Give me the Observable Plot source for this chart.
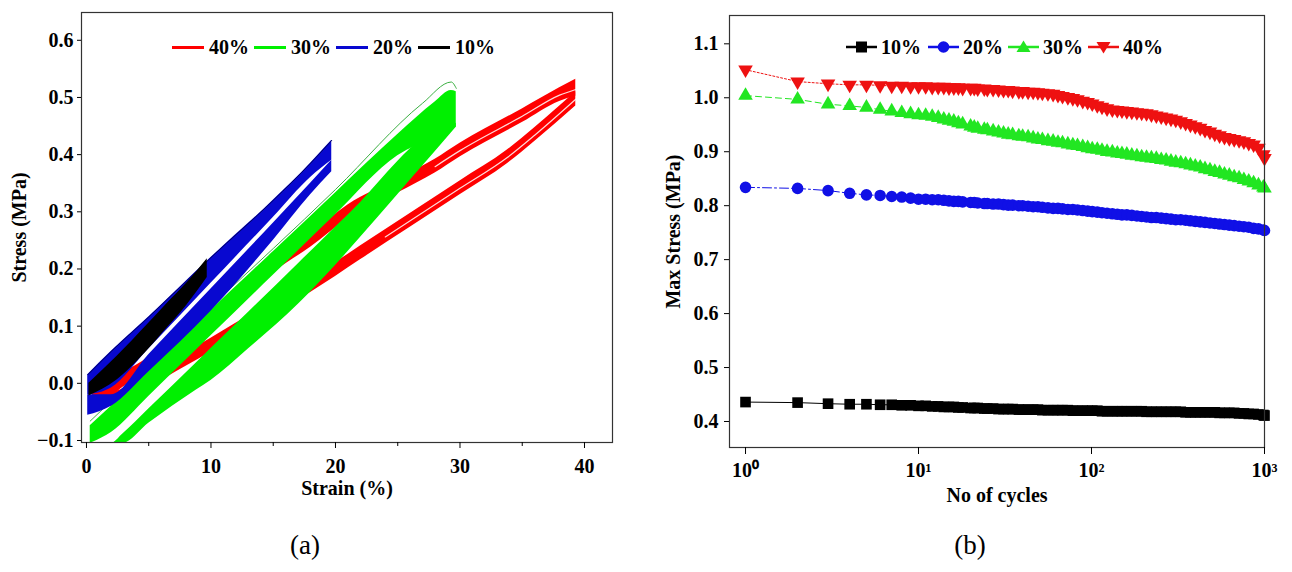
<!DOCTYPE html>
<html><head><meta charset="utf-8">
<script src="https://cdn.jsdelivr.net/npm/d3@7"></script>
<script src="https://cdn.jsdelivr.net/npm/@observablehq/plot@0.6"></script>
<style>
body{margin:0;background:#fff;}
#root{position:relative;width:1292px;height:572px;overflow:hidden;font-family:"Liberation Serif",serif;color:#000;}
.panel{position:absolute;top:0;}
.leg{position:absolute;display:flex;align-items:center;font-weight:bold;font-size:20px;line-height:1;white-space:nowrap;}
.cap{position:absolute;font-size:27px;top:530px;transform:translateX(-50%);}
</style></head><body><div id="root"></div>
<script>
// ---------- Panel (a): hysteresis loops (stress vs strain) ----------
const levelsA = ["40%", "30%", "20%", "10%"];
const colorsA = ["#ff0000", "#00f000", "#0808d0", "#000000"];
const xTicksA = [0, 10, 20, 30, 40];
const xMinorA = [5, 15, 25, 35];
const yTicksA = [-0.1, 0.0, 0.1, 0.2, 0.3, 0.4, 0.5, 0.6];

// 40% loop
const redStrain   = [0.5, 2, 3, 5, 8, 10, 15, 18, 21, 25, 28, 30, 35, 38, 39.3];
const redLoadTop  = [-0.006, 0.002, 0.018, 0.045, 0.094, 0.126, 0.218, 0.262, 0.312, 0.357, 0.392, 0.42, 0.48, 0.517, 0.532];
const redLoadBot  = [-0.03, -0.022, -0.006, 0.021, 0.07, 0.102, 0.194, 0.238, 0.288, 0.333, 0.368, 0.396, 0.456, 0.493, 0.502];
const redUnStrain = [0.5, 2, 5, 8, 10, 12, 15, 18, 20, 22, 26, 30, 33.8, 36, 39.3];
const redUnTop    = [-0.018, -0.016, 0.017, 0.054, 0.079, 0.105, 0.144, 0.183, 0.211, 0.24, 0.297, 0.354, 0.408, 0.447, 0.51];
const redUnBot    = [-0.042, -0.04, -0.007, 0.03, 0.055, 0.081, 0.12, 0.159, 0.187, 0.216, 0.273, 0.33, 0.384, 0.423, 0.485];
const redWhiteLoadStrain = [28, 30, 35, 38, 39.3];
const redWhiteLoad       = [0.379, 0.407, 0.467, 0.504, 0.514];
const redWhiteUnStrain   = [24, 30, 33.8, 36, 39.3];
const redWhiteUn         = [0.256, 0.341, 0.395, 0.434, 0.497];

// 30% loop
const greenStrain   = [0.3, 2, 5, 10, 15, 20, 25, 28, 29.3, 29.7];
const greenLoadTop  = [-0.074, -0.04, 0.022, 0.128, 0.23, 0.333, 0.435, 0.492, 0.512, 0.51];
const greenLoadBot  = [-0.105, -0.086, -0.023, 0.083, 0.189, 0.295, 0.398, 0.43, 0.445, 0.448];
const greenUnStrain = [0.3, 2, 2.9, 5, 8.8, 10, 13, 17.1, 20, 22, 25, 26, 29.7];
const greenUnTop    = [-0.105, -0.105, -0.089, -0.045, 0.035, 0.061, 0.124, 0.211, 0.273, 0.316, 0.388, 0.41, 0.455];
const greenUnBot    = [-0.105, -0.105, -0.105, -0.07, -0.012, 0.005, 0.06, 0.14, 0.206, 0.255, 0.33, 0.355, 0.448];
const greenFirstStrain = [0.3, 10, 20, 27, 29.3, 29.7];
const greenFirst       = [-0.066, 0.134, 0.339, 0.49, 0.527, 0.516];

// 20% loop
const blueStrain  = [0.1, 2, 5, 10, 15, 18, 19.7];
const blueLoadTop = [0.015, 0.056, 0.116, 0.22, 0.32, 0.385, 0.425];
const blueLoadBot = [-0.02, -0.008, 0.06, 0.175, 0.29, 0.36, 0.39];
const blueUnTop   = [-0.02, -0.02, 0.05, 0.165, 0.28, 0.35, 0.39];
const blueUnBot   = [-0.056, -0.04, 0.02, 0.126, 0.25, 0.33, 0.37];

// 10% loop
const blackStrain = [0.2, 2.4, 5, 6.4, 8, 9.7];
const blackTop    = [0.0, 0.046, 0.105, 0.138, 0.174, 0.218];
const blackBot    = [-0.022, 0.005, 0.06, 0.095, 0.135, 0.185];

// ---------- Panel (b): max stress vs cycles ----------
const levelsB = ["10%", "20%", "30%", "40%"];
const colorsB = ["#000000", "#1010e6", "#22e622", "#ee1111"];
const symbolsB = ["square", "circle", "triangle", "triangle"];
const rotateB = [0, 0, 0, 180];
const dashB = ["none", "9,3,2,3", "6,4", "2,2"];
const xTicksB = [1, 10, 100, 1000];
const xTickLabelsB = ["10\u2070", "10\u00b9", "10\u00b2", "10\u00b3"];
const yTicksB = [0.4, 0.5, 0.6, 0.7, 0.8, 0.9, 1.0, 1.1];

const cycles = [1,2,3,4,5,6,7,8,9,10,11,12,13,14,15,16,17,18,20,21,22,24,25,27,29,31,33,35,38,40,43,46,49,52,56,60,64,68,73,78,83,89,95,101,108,115,123,132,141,150,160,171,183,195,208,222,237,253,270,288,307,328,350,373,398,425,453,484,516,550,587,626,668,713,760,811,865,923,985,1000];

const stress10 = [0.436,0.435,0.433,0.432,0.432,0.431,0.431,0.430,0.430,0.429,0.429,0.428,0.428,0.427,0.427,0.427,0.426,0.426,
0.425,0.425,0.425,0.424,0.424,0.424,0.423,0.423,0.423,0.423,
0.422,0.422,0.422,0.422,0.422,0.421,0.421,0.421,0.421,0.421,
0.421,0.420,0.420,0.420,0.420,0.420,0.420,0.419,0.419,0.419,
0.419,0.419,0.419,0.419,0.419,0.419,0.418,0.418,0.418,0.418,
0.418,0.418,0.418,0.418,0.417,0.417,0.417,0.417,0.417,0.417,
0.417,0.416,0.416,0.416,0.416,0.415,0.415,0.414,0.414,0.413,
0.412,0.411];

const stress20 = [0.834,0.832,0.828,0.823,0.820,0.819,0.817,0.816,0.814,0.812,0.812,0.811,0.811,0.810,0.809,0.808,0.808,0.807,
0.806,0.806,0.805,0.804,0.804,0.803,0.803,0.802,0.801,0.801,
0.800,0.800,0.799,0.798,0.798,0.797,0.796,0.795,0.795,0.794,
0.793,0.793,0.792,0.791,0.790,0.789,0.788,0.787,0.786,0.785,
0.784,0.783,0.783,0.782,0.781,0.780,0.779,0.778,0.778,0.777,
0.776,0.775,0.774,0.774,0.773,0.772,0.771,0.770,0.769,0.768,
0.767,0.766,0.765,0.764,0.763,0.762,0.761,0.760,0.758,0.757,
0.755,0.754];

const stress30 = [1.004,0.997,0.988,0.985,0.982,0.978,0.975,0.972,0.970,0.968,0.967,0.965,0.963,0.960,0.958,0.956,0.953,0.951,
0.947,0.945,0.943,0.941,0.940,0.938,0.936,0.934,0.932,0.931,
0.929,0.928,0.927,0.925,0.923,0.922,0.920,0.919,0.917,0.916,
0.914,0.912,0.911,0.909,0.907,0.905,0.904,0.902,0.900,0.899,
0.897,0.896,0.895,0.893,0.892,0.890,0.889,0.888,0.887,0.885,
0.884,0.882,0.880,0.879,0.877,0.875,0.873,0.871,0.868,0.866,
0.863,0.861,0.858,0.856,0.853,0.851,0.848,0.845,0.842,0.838,
0.834,0.832];

const stress40 = [1.052,1.030,1.026,1.024,1.024,1.023,1.022,1.022,1.021,1.021,1.021,1.020,1.020,1.020,1.019,1.019,1.019,1.018,
1.018,1.018,1.017,1.017,1.016,1.016,1.015,1.014,1.014,1.013,
1.012,1.012,1.011,1.011,1.010,1.009,1.008,1.007,1.005,1.003,
1.001,0.999,0.997,0.994,0.992,0.989,0.986,0.983,0.980,0.978,
0.977,0.976,0.975,0.974,0.973,0.972,0.971,0.969,0.967,0.965,
0.963,0.961,0.959,0.956,0.953,0.950,0.947,0.944,0.940,0.937,
0.933,0.930,0.927,0.925,0.923,0.921,0.919,0.916,0.913,0.907,
0.895,0.888];

// ---------- build ----------
const root = document.getElementById("root");
const band = (xs, tops, bots) => xs.map((x, i) => ({x, top: tops[i], bot: bots[i]}));
const pts = (xs, ys) => xs.map((x, i) => ({x, y: ys[i]}));
const fontStyle = {fontFamily: '"Liberation Serif", serif', fontWeight: "bold", fontSize: "20px", color: "#000", background: "none", overflow: "visible"};
const areaOpts = (fill) => ({x: "x", y1: "bot", y2: "top", fill, curve: "monotone-x", clip: "frame"});

const plotA = Plot.plot({
  width: 646, height: 520,
  marginLeft: 81, marginRight: 34, marginTop: 12, marginBottom: 78,
  style: fontStyle,
  x: {domain: [-0.4, 42.25]},
  y: {domain: [-0.1035, 0.6486]},
  marks: [
    Plot.areaY(band(redStrain, redLoadTop, redLoadBot), areaOpts(colorsA[0])),
    Plot.areaY(band(redUnStrain, redUnTop, redUnBot), areaOpts(colorsA[0])),
    Plot.line(pts(redWhiteLoadStrain, redWhiteLoad), {x: "x", y: "y", stroke: "#fff", strokeWidth: 1.2, strokeOpacity: 0.85, curve: "monotone-x"}),
    Plot.line(pts(redWhiteUnStrain, redWhiteUn), {x: "x", y: "y", stroke: "#fff", strokeWidth: 1.2, strokeOpacity: 0.85, curve: "monotone-x"}),
    Plot.areaY(band(greenStrain, greenLoadTop, greenLoadBot), areaOpts(colorsA[1])),
    Plot.areaY(band(greenUnStrain, greenUnTop, greenUnBot), areaOpts(colorsA[1])),
    Plot.line(pts(greenFirstStrain, greenFirst), {x: "x", y: "y", stroke: "#3cb043", strokeWidth: 1, curve: "monotone-x", clip: "frame"}),
    Plot.areaY(band(blueStrain, blueLoadTop, blueLoadBot), areaOpts(colorsA[2])),
    Plot.areaY(band(blueStrain, blueUnTop, blueUnBot), areaOpts(colorsA[2])),
    Plot.line(pts(blueStrain, blueLoadTop), {x: "x", y: "y", stroke: "#000060", strokeWidth: 1, curve: "monotone-x"}),
    Plot.areaY(band(blackStrain, blackTop, blackBot), areaOpts(colorsA[3])),
    Plot.frame({stroke: "#333", strokeWidth: 1.2}),
    Plot.axisX({ticks: xTicksA, tickSize: 6, tickPadding: 10, tickFormat: d => String(d), label: "Strain (%)", labelAnchor: "center", labelArrow: "none", labelOffset: 52}),
    Plot.axisX({ticks: xMinorA, tickSize: 4, tickFormat: () => "", label: null}),
    Plot.axisY({ticks: yTicksA, tickSize: 4, tickPadding: 4, tickFormat: ".1f", label: "Stress (MPa)", labelAnchor: "center", labelArrow: "none", labelOffset: 70})
  ]
});
plotA.classList.add("panel");
plotA.style.left = "0px";
root.appendChild(plotA);

const seriesB = [stress10, stress20, stress30, stress40].map((vals, k) =>
  cycles.map((n, i) => ({n, v: vals[i], k})));

const marksB = [];
seriesB.forEach((s, k) => {
  marksB.push(Plot.line(s, {x: "n", y: "v", stroke: colorsB[k], strokeWidth: 1, strokeDasharray: dashB[k]}));
});
seriesB.forEach((s, k) => {
  marksB.push(Plot.dot(s, {x: "n", y: "v", symbol: () => symbolsB[k], fill: colorsB[k], stroke: "none",
    r: k === 0 ? 6 : (k === 1 ? 5.8 : 5.4), rotate: rotateB[k]}));
});

const plotB = Plot.plot({
  width: 646, height: 520,
  marginLeft: 83, marginRight: 28, marginTop: 15, marginBottom: 73,
  style: fontStyle,
  x: {type: "log", domain: [0.808, 1000]},
  y: {domain: [0.3518, 1.1525]},
  symbol: {type: "identity"},
  marks: [
    ...marksB,
    Plot.frame({stroke: "#333", strokeWidth: 1.2}),
    Plot.axisX({ticks: xTicksB, tickSize: 7, tickPadding: 8, tickFormat: d => xTickLabelsB[xTicksB.indexOf(d)], label: "No of cycles", labelAnchor: "center", labelArrow: "none", labelOffset: 54}),
    Plot.axisY({ticks: yTicksB, tickSize: 5, tickPadding: 6, tickFormat: ".1f", label: "Max Stress (MPa)", labelAnchor: "center", labelArrow: "none", labelOffset: 64})
  ]
});
plotB.classList.add("panel");
plotB.style.left = "646px";
root.appendChild(plotB);

// ---------- legends ----------
const legAX = [172, 254, 336, 418];
levelsA.forEach((lab, i) => {
  const d = document.createElement("div");
  d.className = "leg";
  d.style.left = legAX[i] + "px";
  d.style.top = "37px";
  d.innerHTML = `<span style="display:inline-block;width:32px;height:3px;background:${colorsA[i]};margin-right:5px"></span>${lab}`;
  root.appendChild(d);
});

const legBX = [846, 928, 1008, 1088];
levelsB.forEach((lab, i) => {
  const d = document.createElement("div");
  d.className = "leg";
  d.style.left = legBX[i] + "px";
  d.style.top = "37px";
  let sym;
  if (symbolsB[i] === "square") sym = `<rect x="10" y="3.5" width="11" height="11" fill="${colorsB[i]}"/>`;
  else if (symbolsB[i] === "circle") sym = `<circle cx="15.5" cy="9" r="5.8" fill="${colorsB[i]}"/>`;
  else if (rotateB[i] === 0) sym = `<path d="M15.5,2.5L22.5,14L8.5,14Z" fill="${colorsB[i]}"/>`;
  else sym = `<path d="M15.5,15.5L22.5,4L8.5,4Z" fill="${colorsB[i]}"/>`;
  d.innerHTML = `<svg width="31" height="18" style="margin-right:4px"><line x1="0" x2="31" y1="9" y2="9" stroke="${colorsB[i]}" stroke-width="2.5"/>${sym}</svg>${lab}`;
  root.appendChild(d);
});

// ---------- captions ----------
[["(a)", 305], ["(b)", 970]].forEach(([t, x]) => {
  const d = document.createElement("div");
  d.className = "cap";
  d.style.left = x + "px";
  d.textContent = t;
  root.appendChild(d);
});
</script></body></html>
